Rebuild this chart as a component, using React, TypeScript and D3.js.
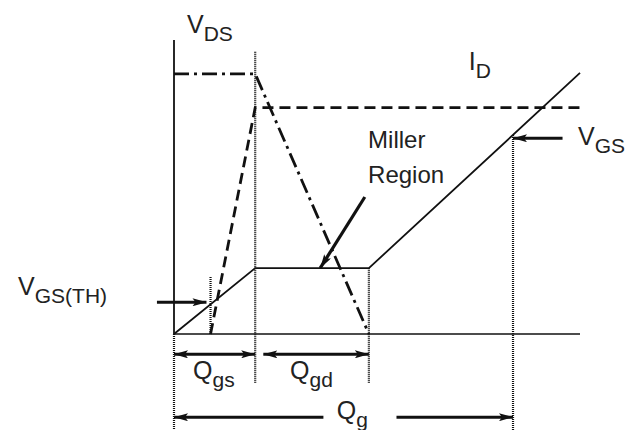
import React from 'react';
import * as d3 from 'd3';

// gate charge (x) and level (y) in arbitrary units, 0..100
const vgsQ = [0, 20, 48, 100];
const vgsV = [0, 22.4, 22.4, 88.8];
const idQ = [9, 20, 100];
const idV = [0, 77, 77];
const vdsQ = [0, 20, 48];
const vdsV = [88.5, 88.5, 0];

// Qth, end of Qgs, end of Qgd, Qg
const qMarks = [9, 20, 48, 83.5];
const qTops = [19.4, 96, 22.4, 67.7];
const qBottoms = [0, -16.7, -16.7, -33];

const labels = [
  { main: 'V', sub: 'DS', q: 3.2, v: 102.4 },
  { main: 'I', sub: 'D', q: 72.6, v: 89.8 },
  { main: 'V', sub: 'GS', q: 99.5, v: 64.3 },
  { main: 'V', sub: 'GS(TH)', q: -38.4, v: 13.3 },
  { main: 'Q', sub: 'gs', q: 4.7, v: -15.3 },
  { main: 'Q', sub: 'gd', q: 28.6, v: -15.3 },
  { main: 'Q', sub: 'g', q: 40.1, v: -28.8 },
];
const millerText = ['Miller', 'Region'];
const millerQ = 47.8;
const millerV = [63.3, 51.4];

const App = () => {
  const width = 638;
  const height = 430;
  const x = d3.scaleLinear().domain([0, 100]).range([174, 580]);
  const y = d3.scaleLinear().domain([0, 100]).range([334, 40]);

  const path = (qs: number[], vs: number[]) =>
    d3.line<[number, number]>().x(d => x(d[0])).y(d => y(d[1]))(qs.map((q, i) => [q, vs[i]]));

  const ink = '#111';
  const txt = '#222';

  const arrowRows = [
    { from: 0, to: qMarks[1], v: -6.9, start: true, end: true },
    { from: 22, to: qMarks[2], v: -6.9, start: true, end: true },
    { from: 36.8, to: 0, v: -28.3, start: false, end: true },
    { from: 54.8, to: qMarks[3], v: -28.3, start: false, end: true },
    { from: -4.2, to: 8, v: 10.8, start: false, end: true },
    { from: 95.7, to: qMarks[3], v: 66.6, start: false, end: true },
  ];

  return (
    <>
      <style>{`body{margin:0}`}</style>
      <svg width={width} height={height} style={{ display: 'block', background: '#fff' }}
        fontFamily="'Liberation Sans', Arial, sans-serif">
        <defs>
          <marker id="ah" viewBox="0 0 14 8" refX="14" refY="4" markerWidth="14" markerHeight="8"
            markerUnits="userSpaceOnUse" orient="auto-start-reverse">
            <path d="M0,0 L14,4 L0,8 L3,4 Z" fill={ink} />
          </marker>
        </defs>

        {/* axes */}
        <line x1={x(0)} x2={x(0)} y1={y(100)} y2={y(0)} stroke={ink} strokeWidth={1.8} />
        <line x1={x(0)} x2={x(0)} y1={y(0)} y2={height} stroke={ink} strokeWidth={2.2} strokeDasharray="1,1" />
        <line x1={x(0)} x2={x(100)} y1={y(0)} y2={y(0)} stroke={ink} strokeWidth={1.5} />

        {/* dotted markers */}
        {qMarks.map((q, i) => (
          <line key={i} x1={x(q)} x2={x(q)} y1={y(qTops[i])} y2={y(qBottoms[i])}
            stroke={ink} strokeWidth={2.2} strokeDasharray="1,1" />
        ))}

        {/* curves */}
        <path d={path(vdsQ, vdsV) ?? ''} fill="none" stroke={ink} strokeWidth={2.8}
          strokeDasharray="15,5,3,5" />
        <path d={path(idQ, idV) ?? ''} fill="none" stroke={ink} strokeWidth={2.8}
          strokeDasharray="11,6" />
        <path d={path(vgsQ, vgsV) ?? ''} fill="none" stroke={ink} strokeWidth={1.8} />

        {/* arrows */}
        {arrowRows.map((a, i) => (
          <line key={i} x1={x(a.from)} x2={x(a.to)} y1={y(a.v)} y2={y(a.v)}
            stroke={ink} strokeWidth={3}
            markerStart={a.start ? 'url(#ah)' : undefined}
            markerEnd={a.end ? 'url(#ah)' : undefined} />
        ))}
        <line x1={x(47)} y1={y(46.6)} x2={x(36)} y2={y(22.4)} stroke={ink} strokeWidth={3.2}
          markerEnd="url(#ah)" />

        {/* labels */}
        {labels.map((l, i) => (
          <text key={i} x={x(l.q)} y={y(l.v)} fill={txt} fontSize={25}>
            {l.main}
            <tspan fontSize={21} dy={8}>{l.sub}</tspan>
          </text>
        ))}
        {millerText.map((t, i) => (
          <text key={t} x={x(millerQ)} y={y(millerV[i])} fill={txt} fontSize={24}>{t}</text>
        ))}
      </svg>
    </>
  );
};

export default App;
